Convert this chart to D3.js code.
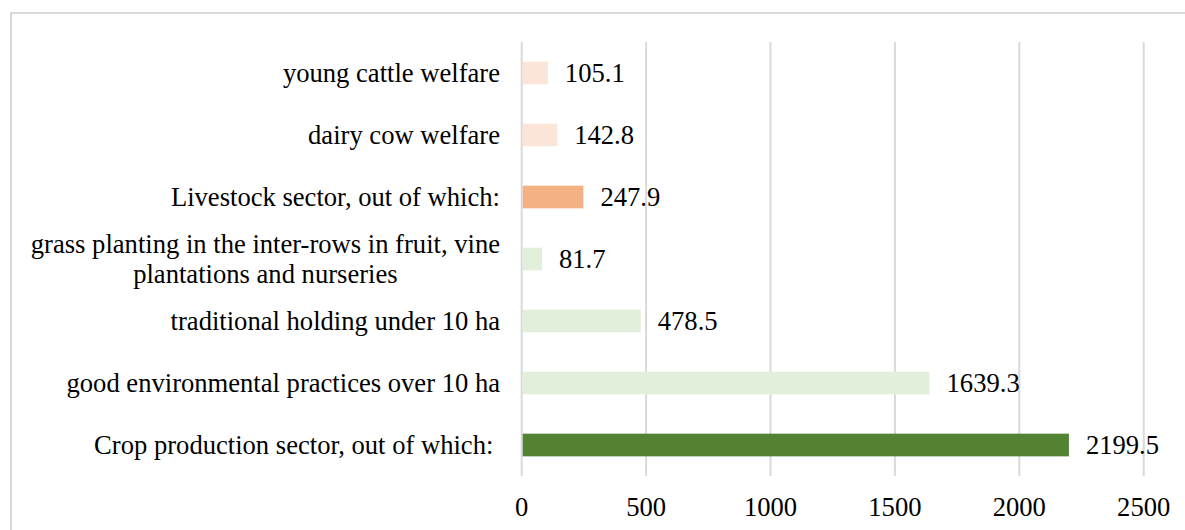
<!DOCTYPE html>
<html>
<head>
<meta charset="utf-8">
<script src="https://cdn.jsdelivr.net/npm/d3@7"></script>
<style>
  html, body { margin: 0; padding: 0; background: #fff; }
  svg { display: block; }
  text { font-family: "Liberation Serif", "Times New Roman", serif; fill: #000; }
</style>
</head>
<body>
<svg id="chart" width="1185" height="530"></svg>
<script>
// Support by measure (top row first)
const categories = [
  "young cattle welfare",
  "dairy cow welfare",
  "Livestock sector, out of which:",
  "grass planting in the inter-rows in fruit, vine|plantations and nurseries",
  "traditional holding under 10 ha",
  "good environmental practices over 10 ha",
  "Crop production sector, out of which:\u00a0"
];
const values = [105.1, 142.8, 247.9, 81.7, 478.5, 1639.3, 2199.5];
const barColors = ["#FBE5D6", "#FBE5D6", "#F4B183", "#E2EFDA", "#E2EFDA", "#E2EFDA", "#548235"];
const tickValues = [0, 500, 1000, 1500, 2000, 2500];

const svg = d3.select("#chart");
const W = 1185, H = 530;
const FS = 26.6;

// outer frame
svg.append("rect")
  .attr("x", 11).attr("y", 13)
  .attr("width", W).attr("height", H)
  .attr("fill", "none")
  .attr("stroke", "#D9D9D9")
  .attr("stroke-width", 2);

const x = d3.scaleLinear().domain([0, 2500]).range([521.7, 1143.7]);
const y = d3.scaleBand().domain(categories).range([42, 476]).paddingInner(0.634).paddingOuter(0.317);

// vertical gridlines
svg.append("g").selectAll("line")
  .data(tickValues)
  .join("line")
  .attr("x1", d => x(d)).attr("x2", d => x(d))
  .attr("y1", 42).attr("y2", 476)
  .attr("stroke", "#D9D9D9")
  .attr("stroke-width", 2);

// bars
svg.append("g").selectAll("rect")
  .data(values)
  .join("rect")
  .attr("x", x(0) + 1)
  .attr("y", (d, i) => y(categories[i]))
  .attr("width", d => x(d) - x(0) - 1)
  .attr("height", y.bandwidth())
  .attr("fill", (d, i) => barColors[i]);

// value labels
svg.append("g").selectAll("text")
  .data(values)
  .join("text")
  .attr("x", d => x(d) + 17)
  .attr("y", (d, i) => y(categories[i]) + y.bandwidth() / 2)
  .attr("dy", "0.35em")
  .attr("font-size", FS)
  .text(d => d3.format(".1f")(d));

// category labels (right aligned block; wrapped lines centred within it)
const catG = svg.append("g");
categories.forEach((c, i) => {
  const lines = c.split("|");
  const cy = y(c) + y.bandwidth() / 2;
  if (lines.length === 1) {
    catG.append("text")
      .attr("x", 500).attr("y", cy).attr("dy", "0.35em")
      .attr("text-anchor", "end")
      .attr("font-size", FS)
      .text(lines[0]);
  } else {
    const t = catG.append("text").attr("font-size", FS).attr("text-anchor", "middle");
    const spans = lines.map((l, k) => t.append("tspan")
      .attr("y", cy + (k - (lines.length - 1) / 2) * 30)
      .attr("dy", "0.35em")
      .text(l));
    const widest = d3.max(spans, s => s.node().getComputedTextLength());
    spans.forEach(s => s.attr("x", 500 - widest / 2));
  }
});

// x axis tick labels
svg.append("g").selectAll("text")
  .data(tickValues)
  .join("text")
  .attr("x", d => x(d))
  .attr("y", 507)
  .attr("dy", "0.35em")
  .attr("text-anchor", "middle")
  .attr("font-size", FS)
  .text(d => d);
</script>
</body>
</html>
